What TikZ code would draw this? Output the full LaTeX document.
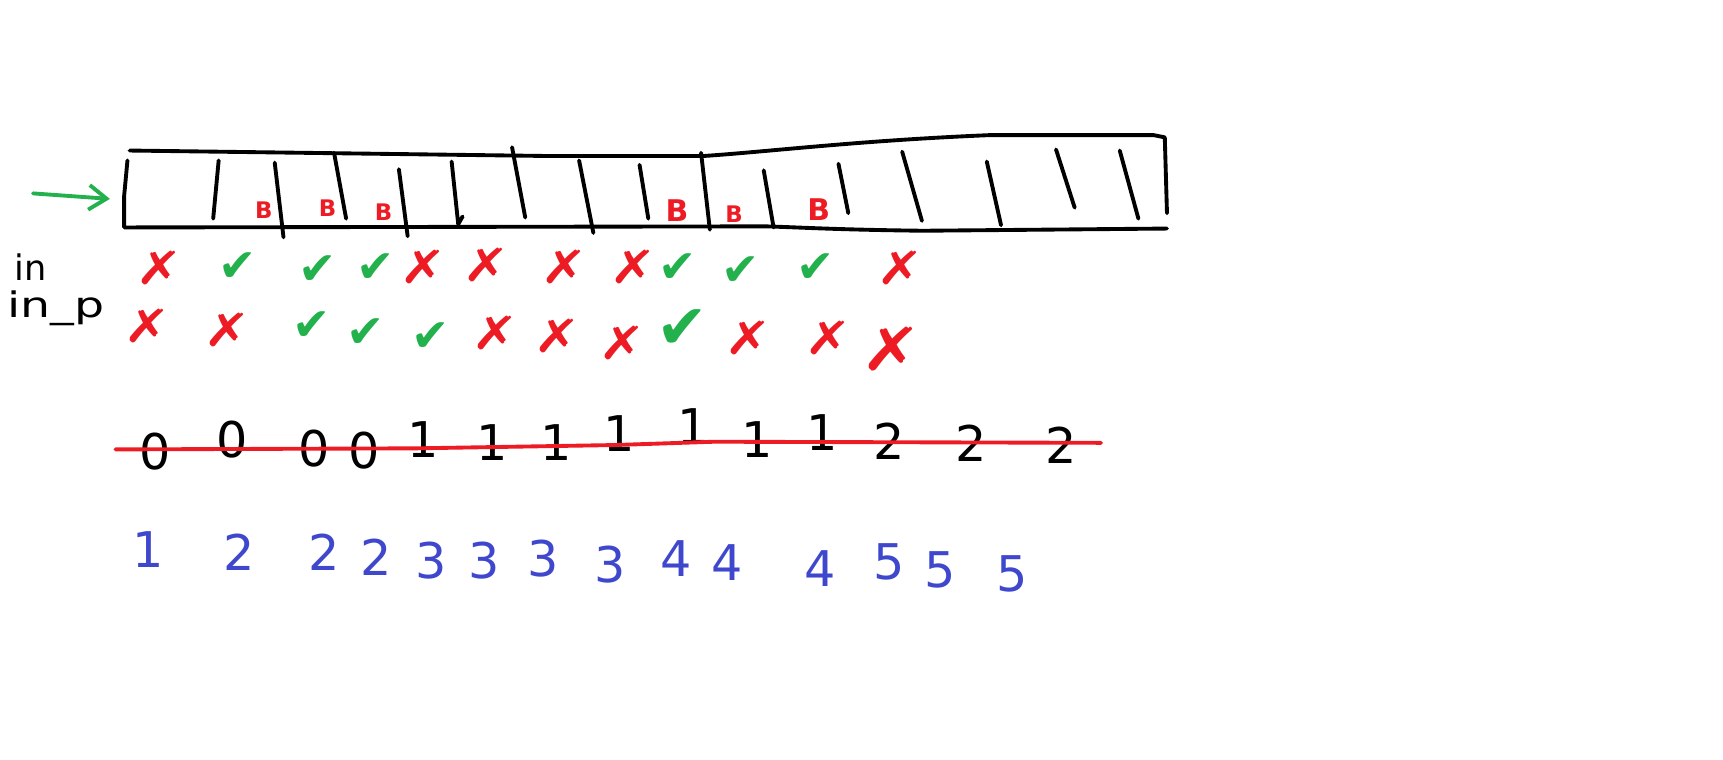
\documentclass[tikz,border=0pt]{standalone}
\usepackage{fontspec}
\setmainfont{DejaVu Sans}
\usetikzlibrary{arrows.meta}
\definecolor{paintred}{RGB}{237,28,36}
\definecolor{paintgreen}{RGB}{34,177,76}
\definecolor{paintblue}{RGB}{63,72,204}
\tikzset{%
  % Strokes of the sketch:
            pen/.style = {line width=1.1pt, line cap=round, line join=round},
            tick/.style = {pen, black},
  % Marks and numbers below the cells:
            yes/.style = {text=paintgreen, inner sep=0pt,
                          font=\fontsize{13}{13}\selectfont},
            no/.style = {text=paintred, inner sep=0pt, xscale=1.25,
                         font=\fontsize{13}{13}\selectfont},
            bmark/.style = {text=paintred, inner sep=0pt,
                            font=\bfseries\fontsize{6.5}{6.5}\selectfont},
            bigbmark/.style = {bmark, font=\bfseries\fontsize{8.5}{8.5}\selectfont},
            count/.style = {inner sep=0pt, font=\fontsize{14}{14}\selectfont},
            total/.style = {count, text=paintblue},
            rowlabel/.style = {inner sep=0pt, anchor=west, font=\fontsize{10}{10}\selectfont},
 }

\begin{document}
\begin{tikzpicture}[x=0.01099cm, y=-0.01099cm]
  \useasboundingbox (0,0) rectangle (1568,691);

  % The strip and its cells
     \draw[pen] (118,137) -- (500,142) -- (640,142) .. controls (700,138) and (780,128) .. (900,123)
                -- (1050,123) -- (1060,125) -- (1062,194);
     \draw[pen] (116,146) -- (113,178) -- (113,207) -- (697,206)
                .. controls (730,207) and (760,209) .. (840,210) -- (1062,208);
     \draw[tick] (199,146) -- (194,199);
     \draw[tick] (250,148) -- (258,216);
     \draw[tick] (304,139) -- (315,199);
     \draw[tick] (363,154) -- (371,215);
     \draw[tick] (411,147) -- (417,204) -- (421,197);
     \draw[tick] (466,134) -- (478,198);
     \draw[tick] (527,146) -- (540,212);
     \draw[tick] (582,150) -- (590,199);
     \draw[tick] (638,139) -- (646,209);
     \draw[tick] (695,155) -- (704,207);
     \draw[tick] (763,149) -- (772,194);
     \draw[tick] (821,138) -- (839,201);
     \draw[tick] (898,147) -- (911,205);
     \draw[tick] (961,136) -- (978,189);
     \draw[tick] (1019,137) -- (1036,199);

  % Marked cells
     \node (b1) [bmark] at (240,191) {B};
     \node (b2) [bmark] at (298,189) {B};
     \node (b3) [bmark] at (349,193) {B};
     \node (b4) [bigbmark] at (616,192) {B};
     \node (b5) [bmark] at (668,195) {B};
     \node (b6) [bigbmark] at (745,191) {B};

  % Feeding arrow
     \coordinate (feed) at (30,176);
     \coordinate (stripIn) at (100,181);
     \draw[pen, paintgreen, -{Straight Barb[length=5pt, width=7pt]}] (feed) -- (stripIn);

  % Row labels
     \node (inLabel) [rowlabel] at (13,243) {in};
     \node (inpLabel) [rowlabel, xscale=1.35] at (6,281) {in\_p};

  % Row "in"
     \node (in1) [no] at (145,244) {✗};
     \node (in2) [yes] at (216,243) {✔};
     \node (in3) [yes] at (289,246) {✔};
     \node (in4) [yes] at (342,244) {✔};
     \node (in5) [no] at (385,243) {✗};
     \node (in6) [no] at (443,241) {✗};
     \node (in7) [no] at (514,243) {✗};
     \node (in8) [no] at (576,243) {✗};
     \node (in9) [yes] at (617,244) {✔};
     \node (in10) [yes] at (674,247) {✔};
     \node (in11) [yes] at (742,244) {✔};
     \node (in12) [no] at (819,244) {✗};

  % Row "in_p"
     \node (inp1) [no] at (134,297) {✗};
     \node (inp2) [no] at (207,300) {✗};
     \node (inp3) [yes] at (284,297) {✔};
     \node (inp4) [yes] at (333,303) {✔};
     \node (inp5) [yes] at (392,307) {✔};
     \node (inp6) [no] at (451,303) {✗};
     \node (inp7) [no] at (507,306) {✗};
     \node (inp8) [no] at (566,312) {✗};
     \node (inp9) [yes, scale=1.35] at (621,299) {✔};
     \node (inp10) [no] at (681,308) {✗};
     \node (inp11) [no] at (754,308) {✗};
     \node (inp12) [no, scale=1.3] at (811,318) {✗};

  % Running count, struck through
     \node (c1) [count] at (141,411) {0};
     \node (c2) [count] at (211,400) {0};
     \node (c3) [count] at (286,408) {0};
     \node (c4) [count] at (331,410) {0};
     \node (c5) [count] at (385,400) {1};
     \node (c6) [count] at (448,403) {1};
     \node (c7) [count] at (506,403) {1};
     \node (c8) [count] at (563,395) {1};
     \node (c9) [count] at (631,388) {1};
     \node (c10) [count] at (689,400) {1};
     \node (c11) [count] at (748,394) {1};
     \node (c12) [count] at (809,402) {2};
     \node (c13) [count] at (884,403) {2};
     \node (c14) [count] at (966,405) {2};
     \draw[pen, paintred] (105,409) -- (380,408) -- (560,405) -- (650,402) -- (1002,403);

  % Corrected count
     \node (t1) [total] at (135,500) {1};
     \node (t2) [total] at (218,503) {2};
     \node (t3) [total] at (295,503) {2};
     \node (t4) [total] at (342,507) {2};
     \node (t5) [total] at (392,510) {3};
     \node (t6) [total] at (441,510) {3};
     \node (t7) [total] at (494,508) {3};
     \node (t8) [total] at (555,514) {3};
     \node (t9) [total] at (615,508) {4};
     \node (t10) [total] at (662,512) {4};
     \node (t11) [total] at (746,517) {4};
     \node (t12) [total] at (809,511) {5};
     \node (t13) [total] at (856,519) {5};
     \node (t14) [total] at (921,522) {5};

   \end{tikzpicture}
\end{document}
